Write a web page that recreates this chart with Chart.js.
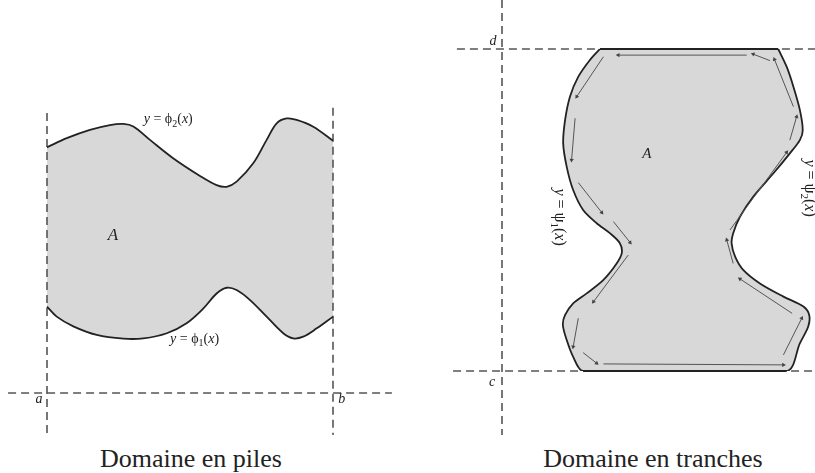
<!DOCTYPE html>
<html>
<head>
<meta charset="utf-8">
<script src="https://cdn.jsdelivr.net/npm/chart.js@4.4.1/dist/chart.umd.min.js"></script>
<style>
  html, body { margin: 0; padding: 0; background: #fff; }
  #figure { position: relative; width: 815px; height: 473px; overflow: hidden; }
  .panel { position: absolute; top: 0; }
  .caption { position: absolute; top: 444px; width: 240px; line-height: 30px; font-family: 'Liberation Serif', serif; font-size: 26px; color: #222; text-align: center; white-space: nowrap; }
</style>
</head>
<body>
<div id="figure">
  <canvas id="pilesChart" class="panel" width="408" height="440" style="left:0"></canvas>
  <canvas id="tranchesChart" class="panel" width="407" height="440" style="left:408px"></canvas>
  <div class="caption" style="left:71px">Domaine en piles</div>
  <div class="caption" style="left:533px">Domaine en tranches</div>
</div>
<script>
// bounds of the two domains
const pilesA = 0, pilesB = 10;
const tranchesC = 0, tranchesD = 10;

// domaine en piles : y = phi2(x) on top, y = phi1(x) below
const phi2X = [0, 0.69, 1.50, 2.20, 2.67, 3.02, 3.60, 4.41, 5.35, 5.93, 6.28, 6.63, 7.21, 7.68, 8.03, 8.38, 8.73, 9.31, 10];
const phi2Y = [8.59, 8.91, 9.20, 9.37, 9.41, 9.32, 8.85, 8.21, 7.59, 7.27, 7.21, 7.39, 8.03, 8.85, 9.43, 9.60, 9.55, 9.31, 8.82];
const phi1X = [0, 0.34, 0.92, 1.74, 2.67, 3.37, 4.19, 4.88, 5.47, 5.93, 6.28, 6.63, 7.10, 7.68, 8.26, 8.61, 8.96, 9.43, 10];
const phi1Y = [3.02, 2.67, 2.33, 2.03, 1.90, 1.91, 2.09, 2.44, 2.96, 3.48, 3.68, 3.60, 3.25, 2.67, 2.09, 1.91, 1.97, 2.26, 2.67];

// domaine en tranches : x = psi2(y) on the right (top -> bottom), x = psi1(y) on the left (bottom -> top)
const psi2X = [8.58, 8.84, 9.05, 9.25, 9.34, 9.25, 8.94, 8.43, 7.80, 7.39, 7.18, 7.13, 7.24, 7.49, 8.01, 8.74, 9.36, 9.54, 9.51, 9.25, 8.84];
const psi2Y = [10, 9.45, 8.83, 8.11, 7.48, 7.17, 6.76, 6.14, 5.41, 4.79, 4.28, 3.97, 3.55, 3.14, 2.72, 2.31, 2.00, 1.74, 1.38, 0.86, 0];
const psi1X = [2.52, 2.21, 2.01, 1.89, 1.96, 2.21, 2.63, 3.15, 3.56, 3.72, 3.66, 3.35, 2.94, 2.52, 2.21, 2.01, 1.90, 1.96, 2.11, 2.37, 2.73, 3.04];
const psi1Y = [0, 0.44, 0.96, 1.43, 1.74, 2.10, 2.41, 2.83, 3.34, 3.66, 3.97, 4.28, 4.59, 5.00, 5.62, 6.34, 7.07, 7.80, 8.52, 9.14, 9.66, 10];

// orientation arrows inside the tranches domain (tail -> head)
const arrowTailX = [7.60, 8.32, 9.05, 8.94, 7.08, 7.18, 9.01, 8.74, 3.15, 2.52, 2.37, 3.92, 3.46, 2.37, 2.27, 3.15];
const arrowTailY = [9.81, 9.64, 8.21, 7.17, 4.38, 3.34, 1.79, 0.50, 0.22, 0.57, 1.64, 3.60, 4.64, 5.85, 7.85, 9.76];
const arrowHeadX = [3.61, 7.80, 8.46, 9.15, 8.84, 6.98, 7.39, 9.31, 8.74, 2.94, 2.21, 2.84, 3.98, 3.10, 2.16, 2.32];
const arrowHeadY = [9.81, 9.84, 9.68, 7.90, 6.79, 4.07, 2.86, 1.64, 0.19, 0.24, 0.75, 2.15, 3.99, 4.92, 6.55, 8.52];

const INK = '#222';
const DASH = '#555';
const AREA = '#d8d8d8';
const SERIF = "'Liberation Serif', 'DejaVu Serif', serif";

function pts(xs, ys) {
    return xs.map((x, i) => ({ x: x, y: ys[i] }));
}

function dashed(data) {
    return {
        data: data,
        borderColor: DASH,
        borderWidth: 1.6,
        borderDash: [8, 5],
        pointRadius: 0,
        tension: 0,
        fill: false,
        clip: false
    };
}

// draws "y = phi2(x)" style labels: [text, 'i' italic | 'r' roman | 's' subscript]
function drawParts(ctx, parts, size) {
    const fontOf = (st) => {
        if (st === 'i') return 'italic ' + size + 'px ' + SERIF;
        if (st === 's') return Math.round(size * 0.7) + 'px ' + SERIF;
        return size + 'px ' + SERIF;
    };
    let total = 0;
    parts.forEach(p => {
        ctx.font = fontOf(p[1]);
        total += ctx.measureText(p[0]).width;
    });
    let cx = -total / 2;
    ctx.fillStyle = INK;
    ctx.textBaseline = 'alphabetic';
    ctx.textAlign = 'left';
    parts.forEach(p => {
        ctx.font = fontOf(p[1]);
        ctx.fillText(p[0], cx, p[1] === 's' ? size * 0.25 : 0);
        cx += ctx.measureText(p[0]).width;
    });
}

function labelPlugin(items) {
    return {
        id: 'mathLabels',
        afterDatasetsDraw(chart) {
            const ctx = chart.ctx;
            const xs = chart.scales.x, ys = chart.scales.y;
            items.forEach(item => {
                ctx.save();
                ctx.translate(xs.getPixelForValue(item.x), ys.getPixelForValue(item.y));
                if (item.rotate) {
                    ctx.rotate(item.rotate * Math.PI / 180);
                    ctx.translate(0, item.size * 0.3);
                }
                drawParts(ctx, item.parts, item.size);
                ctx.restore();
            });
        }
    };
}

const pilesLabels = [
    { x: 4.24, y: 9.44, size: 14, parts: [['y', 'i'], [' = \u03d5', 'r'], ['2', 's'], ['(', 'r'], ['x', 'i'], [')', 'r']] },
    { x: 5.16, y: 1.75, size: 14, parts: [['y', 'i'], [' = \u03d5', 'r'], ['1', 's'], ['(', 'r'], ['x', 'i'], [')', 'r']] },
    { x: 2.31, y: 5.35, size: 17, parts: [['A', 'i']] },
    { x: pilesA - 0.28, y: -0.35, size: 14, parts: [['a', 'i']] },
    { x: pilesB + 0.31, y: -0.35, size: 14, parts: [['b', 'i']] }
];

const tranchesLabels = [
    { x: 4.50, y: 6.61, size: 15, parts: [['A', 'i']] },
    { x: -0.28, y: tranchesD + 0.12, size: 14, parts: [['d', 'i']] },
    { x: -0.31, y: tranchesC - 0.47, size: 14, parts: [['c', 'i']] },
    { x: 1.80, y: 4.78, size: 16, rotate: 90, parts: [['y', 'i'], [' = \u03c8', 'r'], ['1', 's'], ['(', 'r'], ['x', 'i'], [')', 'r']] },
    { x: 9.57, y: 5.68, size: 16, rotate: 90, parts: [['y', 'i'], [' = \u03c8', 'r'], ['2', 's'], ['(', 'r'], ['x', 'i'], [')', 'r']] }
];

const hiddenScale = (min, max) => ({ type: 'linear', display: false, min: min, max: max });

// ---------- domaine en piles ----------
new Chart(document.getElementById('pilesChart'), {
    type: 'line',
    data: {
        datasets: [
            {
                data: pts(phi2X, phi2Y),
                borderColor: INK,
                borderWidth: 1.8,
                backgroundColor: AREA,
                fill: '+1',
                tension: 0.35,
                pointRadius: 0
            },
            {
                data: pts(phi1X, phi1Y),
                borderColor: INK,
                borderWidth: 1.8,
                fill: false,
                tension: 0.35,
                pointRadius: 0
            },
            dashed([{ x: pilesA, y: 9.79 }, { x: pilesA, y: -1.47 }]),
            dashed([{ x: pilesB, y: 9.97 }, { x: pilesB, y: -1.47 }]),
            dashed([{ x: -1.36, y: 0 }, { x: 12.06, y: 0 }])
        ]
    },
    options: {
        responsive: false,
        animation: false,
        layout: { padding: 0 },
        scales: {
            x: hiddenScale(-47 / 28.6, (408 - 47) / 28.6),
            y: hiddenScale(-(440 - 393) / 28.6, 393 / 28.6)
        },
        plugins: {
            legend: { display: false },
            tooltip: { enabled: false },
            filler: { drawTime: 'beforeDatasetsDraw' }
        }
    },
    plugins: [labelPlugin(pilesLabels)]
});

// ---------- domaine en tranches ----------
const outline = pts(psi2X, psi2Y).concat(pts(psi1X, psi1Y));
const last = (arr) => arr[arr.length - 1];

const arrowData = [];
arrowTailX.forEach((tx, i) => {
    arrowData.push({ x: tx, y: arrowTailY[i] });
    arrowData.push({ x: arrowHeadX[i], y: arrowHeadY[i] });
    arrowData.push({ x: null, y: null });
});

new Chart(document.getElementById('tranchesChart'), {
    type: 'line',
    data: {
        datasets: [
            {
                data: arrowData,
                borderColor: '#555',
                borderWidth: 1,
                fill: false,
                tension: 0,
                spanGaps: false,
                pointStyle: 'triangle',
                pointBackgroundColor: '#444',
                pointBorderWidth: 0,
                pointRadius: (c) => c.dataIndex % 3 === 1 ? 2.5 : 0,
                pointRotation: (c) => {
                    const i = c.dataIndex;
                    if (i % 3 !== 1) return 0;
                    const t = c.dataset.data[i - 1], h = c.dataset.data[i];
                    return Math.atan2(h.x - t.x, h.y - t.y) * 180 / Math.PI;
                },
                clip: false
            },
            {
                // top edge y = d
                data: [{ x: last(psi1X), y: last(psi1Y) }, { x: psi2X[0], y: psi2Y[0] }],
                borderColor: INK, borderWidth: 1.8, pointRadius: 0, tension: 0, fill: false, clip: false
            },
            {
                // bottom edge y = c
                data: [{ x: psi1X[0], y: psi1Y[0] }, { x: last(psi2X), y: last(psi2Y) }],
                borderColor: INK, borderWidth: 1.8, pointRadius: 0, tension: 0, fill: false, clip: false
            },
            {
                data: outline,
                borderColor: INK,
                borderWidth: 1.8,
                backgroundColor: AREA,
                fill: 'shape',
                tension: 0.3,
                pointRadius: 0,
                clip: 0
            },
            dashed([{ x: 0, y: 11.52 }, { x: 0, y: -1.99 }]),
            dashed([{ x: -1.40, y: tranchesD }, { x: 9.72, y: tranchesD }]),
            dashed([{ x: -1.52, y: tranchesC }, { x: 9.72, y: tranchesC }])
        ]
    },
    options: {
        responsive: false,
        animation: false,
        layout: { padding: { top: 49, bottom: 69, left: 0, right: 0 } },
        scales: {
            x: hiddenScale(-94 / 32.2, (407 - 94) / 32.2),
            y: hiddenScale(tranchesC, tranchesD)
        },
        plugins: {
            legend: { display: false },
            tooltip: { enabled: false },
            filler: { drawTime: 'beforeDatasetsDraw' }
        }
    },
    plugins: [labelPlugin(tranchesLabels)]
});
</script>
</body>
</html>
